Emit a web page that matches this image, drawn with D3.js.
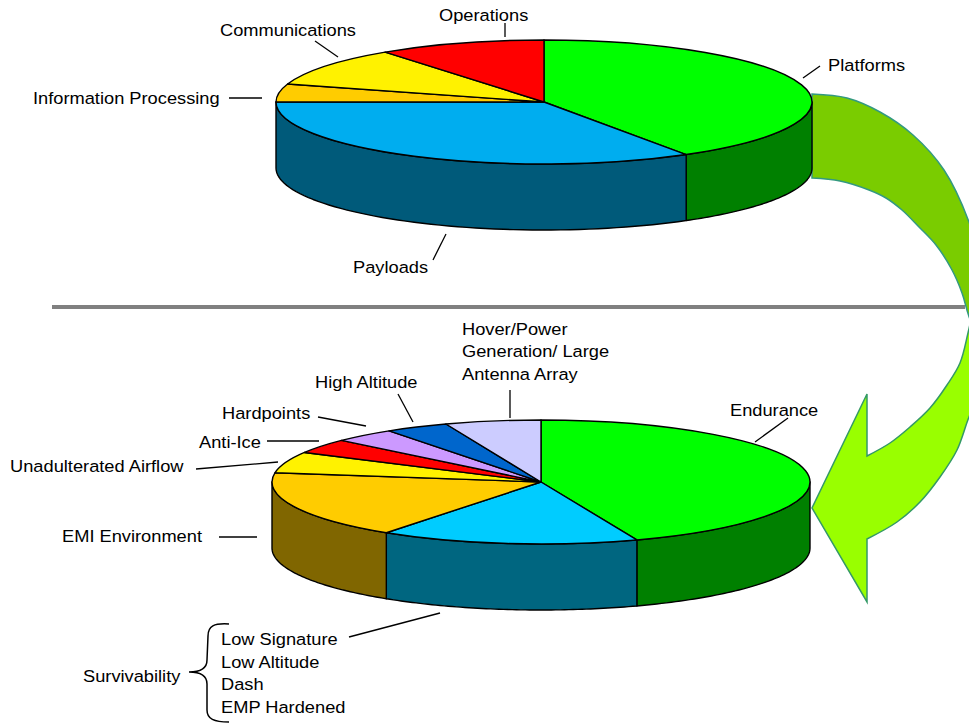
<!DOCTYPE html>
<html>
<head>
<meta charset="utf-8">
<style>
  html, body { margin: 0; padding: 0; background: #fff; overflow: hidden; }
  text { font-family: "Liberation Sans", Arial, sans-serif; font-size: 17px; fill: #000; }
</style>
<script src="https://cdn.jsdelivr.net/npm/d3@7"></script>
</head>
<body>
<svg width="969" height="723"></svg>
<script>
var topLabels = ['Platforms', 'Payloads', 'Information Processing', 'Communications', 'Operations'];
var topValues = [41.1, 33.9, 4.7, 10.2, 10.1];
var topColors = ['#00ff00', '#00adef', '#ffcc00', '#fff200', '#ff0000'];
var topSides = ['#008000', '#005a7a', '#806600', '#808000', '#800000'];

var lowLabels = ['Endurance', 'Survivability', 'EMI Environment', 'Unadulterated Airflow', 'Anti-Ice', 'Hardpoints', 'High Altitude', 'Hover/Power Generation/ Large Antenna Array'];
var lowValues = [44.2, 15.55, 17.65, 5.5, 3.8, 3.75, 3.8, 5.75];
var lowColors = ['#00ff00', '#00ccff', '#ffcc00', '#fff200', '#ff0000', '#cc99ff', '#0066cc', '#ccccff'];
var lowSides = ['#008000', '#006680', '#806600', '#808000', '#800000', '#664c80', '#003366', '#666680'];

// label text, x, baseline y
var captions = [
  ['Operations', 439, 21], ['Communications', 220, 36], ['Platforms', 828, 71],
  ['Information Processing', 33, 104], ['Payloads', 353, 273],
  ['Hover/Power', 462, 335], ['Generation/ Large', 462, 357], ['Antenna Array', 462, 380],
  ['High Altitude', 315, 388], ['Hardpoints', 222, 419], ['Anti-Ice', 199, 448],
  ['Unadulterated Airflow', 10, 472], ['EMI Environment', 62, 542], ['Endurance', 730, 416],
  ['Survivability', 83, 682], ['Low Signature', 221, 645], ['Low Altitude', 221, 668],
  ['Dash', 221, 690], ['EMP Hardened', 221, 713]
];
var leaders = [
  [505, 23, 505, 37], [315, 41, 338, 57], [803, 78, 820, 66], [229, 98, 262, 98], [433, 260, 446, 234],
  [755, 442, 788, 418], [510, 418, 510, 390], [413, 422, 398, 394], [318, 417, 366, 426],
  [267, 441, 319, 441], [196, 469, 278, 462], [219, 537, 257, 537], [349, 637, 440, 613]
];

var svg = d3.select('svg');
var line = d3.line();
var curve = d3.line().curve(d3.curveCatmullRom);

// arrow first, pies sit on top of it
var upOuter = [[812, 94], [847, 98], [880, 112], [913, 135], [944, 170], [969, 222], [985, 280]];
var upInner = [[985, 360], [968.5, 315], [962, 293], [952, 270], [936, 245], [919, 227], [902, 210], [886, 198], [869, 190], [840, 181], [812, 178]];
var lowOuter = [[985, 380], [969, 417], [957, 450], [940, 477], [920, 502], [897, 522], [867, 539]];
var lowInner = [[867, 456], [890, 443], [910, 427], [930, 408], [947, 385], [960, 363], [968, 333], [975, 300]];

svg.append('path')
  .attr('d', curve(upOuter) + 'L' + curve(upInner).slice(1) + 'Z')
  .attr('fill', '#7acc00').attr('stroke', '#339980').attr('stroke-width', 1.5);
svg.append('path')
  .attr('d', curve(lowOuter) + 'L867,602L812,508L867,394L' + curve(lowInner).slice(1) + 'Z')
  .attr('fill', '#99ff00').attr('stroke', '#339966').attr('stroke-width', 1.5);

svg.append('line')
  .attr('x1', 52).attr('x2', 965).attr('y1', 307).attr('y2', 307)
  .attr('stroke', '#808080').attr('stroke-width', 4);

function drawPie(values, colors, sides, cx, cy, rx, ry, depth){
  var slices = d3.pie().sort(null).value(function(d){ return d; })(values);
  var g = svg.append('g').attr('transform', 'translate(' + cx + ',' + cy + ')');
  var xAt = function(a){ return rx * Math.sin(a); };
  var yAt = function(a){ return -ry * Math.cos(a); };

  // wall: only the part of the rim that faces us
  slices.forEach(function(s, i){
    var a0 = Math.max(s.startAngle, Math.PI / 2);
    var a1 = Math.min(s.endAngle, Math.PI * 1.5);
    if(a1 <= a0) return;
    var angles = d3.range(0, 61).map(function(k){ return a0 + (a1 - a0) * k / 60; });
    var rim = angles.map(function(a){ return [xAt(a), yAt(a)]; });
    var foot = angles.slice().reverse().map(function(a){ return [xAt(a), yAt(a) + depth]; });
    g.append('path')
      .attr('d', line(rim.concat(foot)) + 'Z')
      .attr('fill', sides[i]).attr('stroke', '#000').attr('stroke-width', 1.4).attr('stroke-linejoin', 'round');
  });

  var arc = d3.arc().innerRadius(0).outerRadius(rx);
  g.append('g').attr('transform', 'scale(1,' + ry / rx + ')')
    .selectAll('path').data(slices)
    .enter().append('path')
      .attr('d', arc)
      .attr('fill', function(d, i){ return colors[i]; })
      .attr('stroke', '#000').attr('stroke-width', 1.4).attr('stroke-linejoin', 'round')
      .attr('vector-effect', 'non-scaling-stroke');
}

drawPie(topValues, topColors, topSides, 544, 102, 268, 62, 66);
drawPie(lowValues, lowColors, lowSides, 541, 482, 269, 62, 66);

svg.selectAll('.leader').data(leaders)
  .enter().append('line').attr('class', 'leader')
    .attr('x1', function(d){ return d[0]; }).attr('y1', function(d){ return d[1]; })
    .attr('x2', function(d){ return d[2]; }).attr('y2', function(d){ return d[3]; })
    .attr('stroke', '#000').attr('stroke-width', 1.3);

// brace round the survivability list
svg.append('path')
  .attr('d', 'M229,624C214,623 208,626 208,636L207,660C207,668 200,672 189,672C200,672 207,676 207,684L207,710C207,719 214,722 229,722')
  .attr('fill', 'none').attr('stroke', '#000').attr('stroke-width', 1.5);

// the original lettering is a little wider than Liberation Sans at this height
svg.selectAll('.caption').data(captions)
  .enter().append('text').attr('class', 'caption')
    .attr('transform', function(d){ return 'translate(' + d[1] + ',' + d[2] + ') scale(1.075,1)'; })
    .text(function(d){ return d[0]; });
</script>
</body>
</html>
